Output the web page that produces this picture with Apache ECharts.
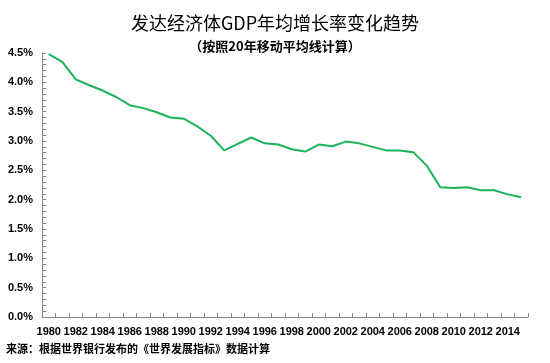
<!DOCTYPE html>
<html>
<head>
<meta charset="utf-8">
<script src="https://cdn.jsdelivr.net/npm/echarts@6/dist/echarts.min.js"></script>
<style>html,body{margin:0;padding:0;background:#fff;}#c{width:550px;height:363px;}</style>
</head>
<body>
<div id="c"></div>
<script>
const years = ['1980','1981','1982','1983','1984','1985','1986','1987','1988','1989','1990','1991','1992','1993','1994','1995','1996','1997','1998','1999','2000','2001','2002','2003','2004','2005','2006','2007','2008','2009','2010','2011','2012','2013','2014','2015'];
const growth = [4.48,4.35,4.05,3.95,3.86,3.75,3.61,3.56,3.49,3.40,3.38,3.25,3.09,2.84,2.95,3.06,2.96,2.94,2.86,2.82,2.94,2.91,2.99,2.96,2.90,2.84,2.84,2.81,2.58,2.21,2.20,2.21,2.16,2.16,2.09,2.04];
const titleText = '发达经济体GDP年均增长率变化趋势';
const subtitleText = '（按照20年移动平均线计算）';
const sourceText = '来源：根据世界银行发布的《世界发展指标》数据计算';

const cjk = '"Noto Sans CJK SC", "Liberation Sans", sans-serif';
const chart = echarts.init(document.getElementById('c'), null, {renderer: 'canvas'});
chart.setOption({
  backgroundColor: '#ffffff',
  animation: false,
  title: [
    {text: titleText, left: 'center', top: 9, textStyle: {fontFamily: cjk, fontSize: 18, fontWeight: 'normal', color: '#000'}},
    {text: subtitleText, left: 'center', top: 35, textStyle: {fontFamily: cjk, fontSize: 13, fontWeight: 'bold', color: '#000'}}
  ],
  graphic: [
    {type: 'text', left: 6, top: 343, style: {text: sourceText, font: 'bold 11px ' + cjk, fill: '#000'}}
  ],
  grid: {left: 42, right: 22, top: 53, bottom: 46, containLabel: false},
  xAxis: {
    type: 'category',
    data: years,
    boundaryGap: true,
    axisLine: {show: true, lineStyle: {color: '#868686', width: 1}},
    axisTick: {show: true, inside: true, length: 4, interval: 0, lineStyle: {color: '#868686'}},
    axisLabel: {interval: 1, margin: 9, fontSize: 11, fontWeight: 'bold', fontFamily: '"Liberation Sans", sans-serif', color: '#000'},
    splitLine: {show: false}
  },
  yAxis: {
    type: 'value',
    min: 0, max: 4.5, interval: 0.5,
    axisLine: {show: true, lineStyle: {color: '#868686', width: 1}},
    axisTick: {show: true, inside: true, length: 4, lineStyle: {color: '#868686'}},
    minorTick: {show: true, splitNumber: 5, length: 4, lineStyle: {color: '#868686'}},
    axisLabel: {margin: 9, fontSize: 11, fontWeight: 'bold', fontFamily: '"Liberation Sans", sans-serif', color: '#000',
      formatter: v => v.toFixed(1) + '%'},
    splitLine: {show: false}
  },
  series: [{
    type: 'line',
    data: growth,
    symbol: 'none',
    lineStyle: {color: '#1db359', width: 2},
    itemStyle: {color: '#1db359'}
  }]
});
</script>
</body>
</html>
